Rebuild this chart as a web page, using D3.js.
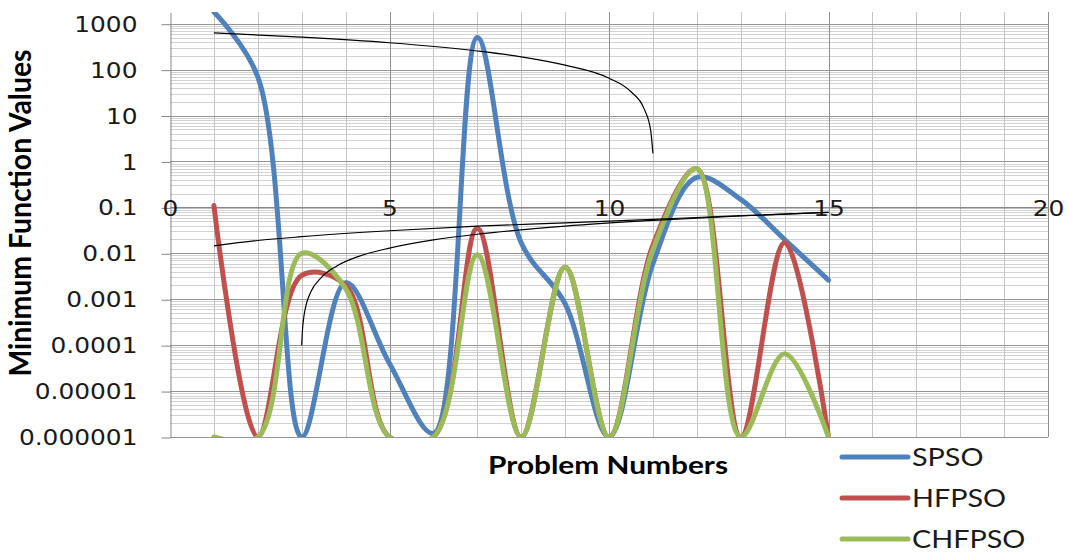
<!DOCTYPE html>
<html>
<head>
<meta charset="utf-8">
<script src="https://cdn.jsdelivr.net/npm/d3@7"></script>
<style>
body { margin: 0; background: #fff; }
</style>
</head>
<body>
<svg id="chart" width="1067" height="554"></svg>
<script>
(function(){
    'use strict';

    // problem numbers and the three series (values below 1e-6 sit on the axis floor)
    var problems = [1, 2, 3, 4, 5, 6, 7, 8, 9, 10, 11, 12, 13, 14, 15];
    var spso   = [1800, 70, 1e-6, 0.0023, 4e-5, 1.2e-6, 500, 0.017, 0.0008, 1e-6, 0.006, 0.45, 0.15, 0.02, 0.0026];
    var hfpso  = [0.11, 1e-6, 0.0033, 0.002, 1e-6, 1e-6, 0.035, 1e-6, 0.005, 1e-6, 0.015, 0.7, 1e-6, 0.017, 1e-6];
    var chfpso = [1e-6, 1e-6, 0.01, 0.0017, 1e-6, 1e-6, 0.0093, 1e-6, 0.005, 1e-6, 0.012, 0.7, 1e-6, 6.5e-5, 1e-6];
    var seriesNames = ["SPSO", "HFPSO", "CHFPSO"];

    // thin black trend lines as [x, value]
    var trendTop = [[1, 630], [3, 510], [5, 385], [7, 255], [8, 190], [9, 125], [10, 65], [10.5, 33], [10.8, 14], [10.95, 4.7], [11, 1.5]];
    var trendLow = [[1, 0.0145], [2, 0.019], [3, 0.023], [5, 0.031], [7, 0.039], [9, 0.046], [11, 0.055], [13, 0.066], [15, 0.078]];
    var trendCurve = [[3, 0.0001], [3.02, 0.00023], [3.05, 0.00042], [3.1, 0.00075], [3.2, 0.0014], [3.45, 0.003], [3.8, 0.0053], [4.3, 0.0086], [5, 0.013], [6, 0.0196], [7, 0.026], [9, 0.039], [11, 0.052], [13, 0.065], [15, 0.078]];

    var xTicks = [0, 5, 10, 15, 20];
    var yTicks = [1e-6, 1e-5, 1e-4, 1e-3, 1e-2, 1e-1, 1, 10, 100, 1000];
    var yTickLabels = ["0.000001", "0.00001", "0.0001", "0.001", "0.01", "0.1", "1", "10", "100", "1000"];

    var colors = ["#4F81BD", "#C0504D", "#9BBB59"];

    var left = 170, right = 1048, top = 12, bottom = 437;

    var svg = d3.select("#chart");

    var x = d3.scaleLinear().domain([0, 20]).range([left, right]);
    var y = d3.scaleLog().domain([1e-6, 1800]).range([bottom, top]);

    function stretch(sel, k) {
        sel.each(function() {
            var w = this.getComputedTextLength();
            d3.select(this).attr("textLength", w * k).attr("lengthAdjust", "spacingAndGlyphs");
        });
    }

    // grid
    var grid = svg.append("g");
    var minor = [];
    for (var e = -6; e <= 3; e++) {
        for (var m = 2; m <= 9; m++) {
            var v = m * Math.pow(10, e);
            if (v < 1800) minor.push(v);
        }
    }
    grid.selectAll(".hmin").data(minor).enter().append("line")
        .attr("x1", left).attr("x2", right)
        .attr("y1", function(d) { return Math.round(y(d)) + 0.5; })
        .attr("y2", function(d) { return Math.round(y(d)) + 0.5; })
        .attr("stroke", "#d2d2d2");
    grid.selectAll(".vmin").data(d3.range(1, 21)).enter().append("line")
        .attr("y1", top).attr("y2", bottom)
        .attr("x1", function(d) { return Math.round(x(d)) + 0.5; })
        .attr("x2", function(d) { return Math.round(x(d)) + 0.5; })
        .attr("stroke", function(d) { return d % 5 === 0 ? "#8f8f8f" : "#c4c4c4"; });
    grid.selectAll(".hmaj").data(yTicks).enter().append("line")
        .attr("x1", left).attr("x2", right)
        .attr("y1", function(d) { return Math.round(y(d)) + 0.5; })
        .attr("y2", function(d) { return Math.round(y(d)) + 0.5; })
        .attr("stroke", "#959595");

    // y axis
    var yAxis = svg.append("g")
        .attr("transform", "translate(" + (left + 0.5) + ",0.5)")
        .call(d3.axisLeft(y).tickValues(yTicks)
            .tickFormat(function(d, i) { return yTickLabels[i]; })
            .tickSize(9).tickSizeOuter(0).tickPadding(24));
    yAxis.select(".domain").attr("stroke", "#868686");
    yAxis.selectAll(".tick line").attr("stroke", "#868686");
    yAxis.selectAll("text")
        .attr("font-family", "DejaVu Sans").attr("font-size", 22).attr("fill", "#1a1a1a");
    stretch(yAxis.selectAll("text"), 1.13);

    // x axis crossing at 0.1
    var xAxis = svg.append("g")
        .attr("transform", "translate(0," + (Math.round(y(0.1)) + 0.5) + ")")
        .call(d3.axisBottom(x).tickValues(xTicks).tickSize(0).tickSizeOuter(0));
    xAxis.select(".domain").attr("stroke", "#7a7a7a");
    xAxis.selectAll("text")
        .attr("y", -7)
        .attr("font-family", "DejaVu Sans").attr("font-size", 22).attr("fill", "#1a1a1a");
    stretch(xAxis.selectAll("text"), 1.13);

    // series
    svg.append("clipPath").attr("id", "plot").append("rect")
        .attr("x", left).attr("y", top).attr("width", right - left).attr("height", bottom - top);
    var plot = svg.append("g").attr("clip-path", "url(#plot)");

    var line = d3.line()
        .x(function(d) { return x(d[0]); })
        .y(function(d) { return y(d[1]); })
        .curve(d3.curveCatmullRom.alpha(0.5));

    [spso, hfpso, chfpso].forEach(function(vals, i) {
        plot.append("path")
            .datum(problems.map(function(p, j) { return [p, vals[j]]; }))
            .attr("d", line)
            .attr("fill", "none")
            .attr("stroke", colors[i])
            .attr("stroke-width", 5)
            .attr("stroke-linejoin", "round")
            .attr("stroke-linecap", "round");
    });

    var thin = d3.line()
        .x(function(d) { return x(d[0]); })
        .y(function(d) { return y(d[1]); })
        .curve(d3.curveMonotoneX);
    [trendTop, trendLow, trendCurve].forEach(function(pts) {
        plot.append("path").datum(pts).attr("d", thin)
            .attr("fill", "none").attr("stroke", "#000").attr("stroke-width", 1.2);
    });

    // axis titles
    var yt = svg.append("text")
        .attr("transform", "translate(31,213) scale(1.2,1) rotate(-90)")
        .attr("text-anchor", "middle")
        .attr("font-family", "Lato").attr("font-weight", "bold").attr("font-size", 25)
        .attr("textLength", 327).attr("lengthAdjust", "spacingAndGlyphs")
        .text("Minimum Function Values");

    svg.append("text")
        .attr("x", 608).attr("y", 474)
        .attr("text-anchor", "middle")
        .attr("font-family", "Lato").attr("font-weight", "bold").attr("font-size", 25)
        .attr("textLength", 240).attr("lengthAdjust", "spacingAndGlyphs")
        .text("Problem Numbers");

    // legend
    var legendY = d3.scalePoint().domain(seriesNames).range([457, 539]);
    var lg = svg.append("g");
    seriesNames.forEach(function(name, i) {
        lg.append("line")
            .attr("x1", 842).attr("x2", 908)
            .attr("y1", legendY(name)).attr("y2", legendY(name))
            .attr("stroke", colors[i]).attr("stroke-width", 5).attr("stroke-linecap", "round");
        lg.append("text")
            .attr("x", 912).attr("y", legendY(name) + 9)
            .attr("font-family", "Lato").attr("font-size", 25).attr("fill", "#1a1a1a")
            .text(name);
    });
    stretch(lg.selectAll("text"), 1.15);
})()
</script>
</body>
</html>
